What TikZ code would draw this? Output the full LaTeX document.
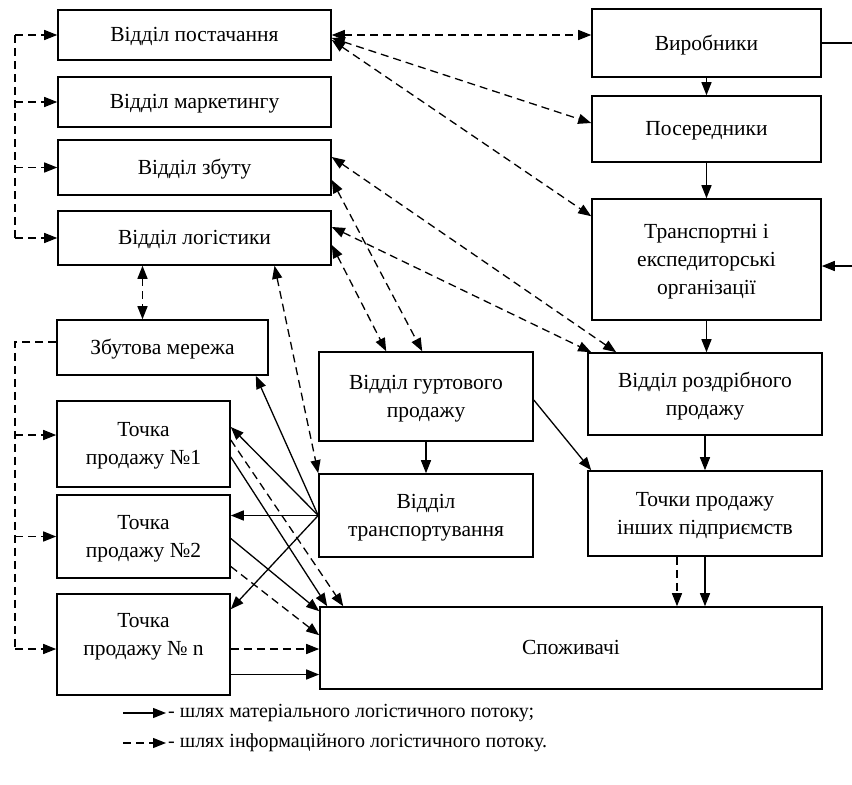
\documentclass[tikz,border=0pt]{standalone}
\usepackage{fontspec}
\setmainfont{Liberation Serif}
\usetikzlibrary{arrows.meta}

\begin{document}
\begin{tikzpicture}[x=1pt,y=-1pt,
    >={Triangle[length=13pt,width=10pt]},
    box/.style={draw, line width=1.6pt, align=center, inner sep=0pt, text depth=1pt, font=\fontsize{21.5}{28}\selectfont},
    flow/.style={line width=1.3pt, ->},
    info/.style={flow, dash pattern=on 8pt off 5pt},
    both/.style={<->}]
    \useasboundingbox (0,0) rectangle (852,785);
    \node[box, minimum width=273pt, minimum height=50pt] (post) at (194.5,35) {Відділ постачання};
    \node[box, minimum width=273pt, minimum height=50pt] (mark) at (194.5,102) {Відділ маркетингу};
    \node[box, minimum width=273pt, minimum height=55pt] (zbut) at (194.5,167.5) {Відділ збуту};
    \node[box, minimum width=273pt, minimum height=54pt] (log) at (194.5,238) {Відділ логістики};
    \node[box, minimum width=211pt, minimum height=55pt] (merezha) at (162.5,347.5) {Збутова мережа};
    \node[box, minimum width=173pt, minimum height=86pt] (t1) at (143.5,444) {Точка\\продажу №1};
    \node[box, minimum width=173pt, minimum height=83pt] (t2) at (143.5,536.5) {Точка\\продажу №2};
    \node[box, minimum width=173pt, minimum height=101pt, text depth=20pt] (tn) at (143.5,644.5) {Точка\\продажу № n};
    \node[box, minimum width=214pt, minimum height=89pt] (gurt) at (426,396.5) {Відділ гуртового\\продажу};
    \node[box, minimum width=214pt, minimum height=83pt] (transp) at (426,515.5) {Відділ\\транспортування};
    \node[box, minimum width=229pt, minimum height=68pt] (vyrob) at (706.5,43) {Виробники};
    \node[box, minimum width=229pt, minimum height=66pt] (poser) at (706.5,129) {Посередники};
    \node[box, minimum width=229pt, minimum height=121pt] (transorg) at (706.5,259.5) {Транспортні і\\експедиторські\\організації};
    \node[box, minimum width=234pt, minimum height=82pt] (rozdr) at (705,394) {Відділ роздрібного\\продажу};
    \node[box, minimum width=234pt, minimum height=85pt] (inshi) at (705,513.5) {Точки продажу\\інших підприємств};
    \node[box, minimum width=502pt, minimum height=82pt] (spoz) at (571,648) {Споживачі};

    \coordinate (bus1) at (15,35);
    \draw[info,-] (post.west -| bus1) -- (log.west -| bus1);
    \foreach \b in {post,mark,zbut,log}
        \draw[info] (\b.west -| bus1) -- (\b.west);
    \draw[info,-] ([yshift=5.5pt]merezha.west) -| ([yshift=-4.5pt]tn.west -| bus1);
    \draw[info] ([yshift=9pt]t1.west -| bus1) -- ([yshift=9pt]t1.west);
    \draw[info] (t2.west -| bus1) -- (t2.west);
    \draw[info] ([yshift=-4.5pt]tn.west -| bus1) -- ([yshift=-4.5pt]tn.west);

    \draw[info,both] (post.east) -- (post.east -| vyrob.west);
    \draw[info,both] ([yshift=-3pt]post.east) -- ([yshift=6pt]poser.west);
    \draw[info,both] ([yshift=-5pt]post.east) -- ([yshift=-18pt]transorg.north west);
    \draw[info,both] ([yshift=10.5pt]zbut.east) -- ([xshift=29pt]rozdr.north west);
    \draw[info,both] ([yshift=-12.5pt]zbut.east) -- ([xshift=104pt]gurt.north west);
    \draw[info,both] ([yshift=11pt]log.east) -- ([xshift=4pt]rozdr.north west);
    \draw[info,both] ([yshift=-7pt]log.east) -- ([xshift=68pt]gurt.north west);
    \draw[info,both] ([xshift=-52pt]log.south) -- ([xshift=-52pt]log.south |- merezha.north);
    \draw[info,both] ([xshift=80pt]log.south) -- (transp.north west);

    \draw[flow] (vyrob) -- (poser);
    \draw[flow] (poser) -- (transorg);
    \draw[flow] (transorg.south) -- (transorg.south |- rozdr.north);
    \draw[flow] (rozdr) -- (inshi);
    \draw[flow] (inshi.south) -- (inshi.south |- spoz.north);
    \draw[info] ([xshift=-28pt]inshi.south) -- ([xshift=-28pt]inshi.south |- spoz.north);
    \draw[flow] (gurt) -- (transp);
    \draw[flow] ([yshift=-3.5pt]gurt.east) -- ([xshift=4pt]inshi.north west);
    \draw[flow] (transp.west) -- ([xshift=-13pt]merezha.south east);
    \draw[flow] (transp.west) -- ([yshift=17pt]t1.east);
    \draw[flow] (transp.west) -- (transp.west -| t2.east);
    \draw[flow] (transp.west) -- ([yshift=-16pt]tn.north east);
    \draw[flow] ([yshift=-13pt]t1.east) -- ([xshift=8pt]spoz.north west);
    \draw[info] ([yshift=4pt]t1.east) -- ([xshift=24pt]spoz.north west);
    \draw[flow] ([yshift=-2pt]t2.east) -- ([yshift=-5pt]spoz.north west);
    \draw[info] ([yshift=-30pt]t2.east) -- ([yshift=-29pt]spoz.north west);
    \draw[info] ([yshift=-4.5pt]tn.east) -- ([yshift=-4.5pt]tn.east -| spoz.west);
    \draw[flow] ([yshift=-30pt]tn.east) -- ([yshift=-30pt]tn.east -| spoz.west);

    \coordinate (edge1) at (852,43);
    \coordinate (edge2) at (852,266);
    \draw[flow,-] (vyrob.east) -- (edge1);
    \draw[flow] (edge2) -- (edge2 -| transorg.east);

    \node[anchor=west, inner sep=2pt, font=\fontsize{20}{22}\selectfont] (leg1) at (166,713) {- шлях матеріального логістичного потоку;};
    \node[anchor=west, inner sep=2pt, font=\fontsize{20}{22}\selectfont] (leg2) at (166,743) {- шлях інформаційного логістичного потоку.};
    \coordinate (l1) at (123,713);
    \coordinate (l2) at (123,743);
    \draw[flow] (l1) -- (leg1.west);
    \draw[info] (l2) -- (leg2.west);
\end{tikzpicture}
\end{document}
